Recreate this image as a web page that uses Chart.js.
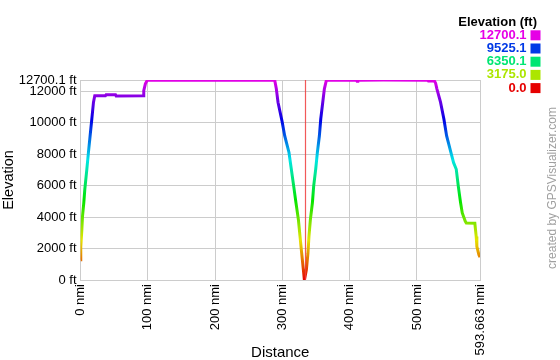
<!DOCTYPE html>
<html><head><meta charset="utf-8">
<script src="https://cdn.jsdelivr.net/npm/chart.js@4"></script>
<style>html,body{margin:0;padding:0;background:#fff;}#wrap{position:relative;width:560px;height:360px;}</style>
</head><body><div id="wrap"><canvas id="c" width="560" height="360"></canvas></div>
<script>
const distanceNmi = [0,0.4,2,3,4.9,6.4,9.4,11.8,14.3,16.8,19.3,21.2,37,38,52,53,93,94,96.4,99.3,
  288.6,291,293.5,299.5,303.4,309.8,313.3,316.8,320.2,323.8,326.2,328.7,331.2,332.7,
  335.6,338,339.5,341.6,344.6,346.5,349.5,352,355,357,360,362.4,365.4,410,411,412,450,
  516,517,526,527.7,529.6,535,540,544,550.4,554.4,558.4,561.4,564.8,567.3,571.8,573.3,586,588,589,592,593.663];
const elevationFt = [1280,2100,3200,4050,4900,5750,7030,8100,9160,10220,11290,11700,11700,11760,11760,11680,11700,12030,12460,12690,
  12690,12140,11290,10080,9160,8100,7030,5960,4900,3830,2770,1700,640,0,
  640,1700,2770,3830,4900,5960,7030,8100,9160,10220,11290,12140,12690,12690,12620,12690,12700.1,
  12690,12640,12640,12500,12140,11290,10220,9160,8100,7450,7030,5960,4900,4260,3730,3620,3600,2770,2130,1600,1450];
const xTickValues = [0,100,200,300,400,500,593.663];
const yTickValues = [0,2000,4000,6000,8000,10000,12000,12700.1];
const legendValues = [12700.1, 9525.1, 6350.1, 3175.0, 0.0];
const legendLabels = ['12700.1','9525.1','6350.1','3175.0','0.0'];
const markerNmi = [333.6];
const ELEV_MAX = 12700.1;
const FONT = '"Liberation Sans", Arial, sans-serif';

function elevColor(e){ const h = Math.max(0,Math.min(1,e/ELEV_MAX))*300; return 'hsl(' + h + ',100%,45%)'; }

let gradCache = null;
function lineGradient(chart){
  const ca = chart.chartArea; if(!ca) return '#000';
  const y = chart.scales.y;
  const key = ca.top + '_' + ca.bottom;
  if (gradCache && gradCache.key === key) return gradCache.g;
  const g = chart.ctx.createLinearGradient(0, y.getPixelForValue(0), 0, y.getPixelForValue(ELEV_MAX));
  for (let i=0;i<=30;i++){ g.addColorStop(i/30, elevColor(i/30*ELEV_MAX)); }
  gradCache = {key, g};
  return g;
}

const extras = {
  id:'extras',
  afterDatasetsDraw(chart){
    const ctx = chart.ctx, ca = chart.chartArea, xs = chart.scales.x;
    ctx.save();
    ctx.globalAlpha = 0.85;
    ctx.strokeStyle = 'rgb(240,60,60)'; ctx.lineWidth = 1.2; ctx.setLineDash([]);
    markerNmi.forEach(m => { const px = Math.round(xs.getPixelForValue(m)) + 0.5; ctx.beginPath(); ctx.moveTo(px, ca.top); ctx.lineTo(px, ca.bottom); ctx.stroke(); });
    ctx.restore();
  },
  afterDraw(chart){
    const ctx = chart.ctx;
    ctx.save();
    ctx.textAlign = 'right'; ctx.textBaseline = 'middle';
    ctx.font = 'bold 13px ' + FONT; ctx.fillStyle = '#000';
    ctx.fillText('Elevation (ft)', 537, 22.5);
    legendValues.forEach((v,i) => {
      const yc = 35.3 + i*13.2;
      const col = elevColor(v);
      ctx.fillStyle = col;
      ctx.fillText(legendLabels[i], 526.5, yc);
      ctx.fillRect(530.5, yc-5, 10, 10);
    });
    ctx.translate(553, 188); ctx.rotate(-Math.PI/2);
    ctx.textAlign = 'center'; ctx.font = '12px ' + FONT; ctx.fillStyle = '#a0a0a0';
    ctx.fillText('created by GPSVisualizer.com', 0, 0);
    ctx.restore();
  }
};

new Chart(document.getElementById('c'), {
  type:'line',
  data:{ datasets:[{
    data: distanceNmi.map((d,i)=>({x:d, y:elevationFt[i]})),
    borderColor: ctx => lineGradient(ctx.chart),
    borderWidth: 3, pointRadius: 0, tension: 0, fill:false
  }]},
  options:{
    responsive:false, animation:false, devicePixelRatio:1,
    layout:{ padding:{ left:0, top:80, right:80, bottom:0 } },
    plugins:{ legend:{display:false}, tooltip:{enabled:false} },
    scales:{
      x:{ type:'linear', min:0, max:593.663,
        afterBuildTicks: s => { s.ticks = xTickValues.map(v=>({value:v})); },
        afterFit: s => { s.height = 80; },
        ticks:{ autoSkip:false, minRotation:90, maxRotation:90, padding:4, color:'#000', font:{family:FONT, size:13},
          callback: v => v + ' nmi' },
        grid:{ color:'#cccccc', drawTicks:false }, border:{ color:'#cccccc' },
        title:{ display:true, text:'Distance', color:'#000', font:{family:FONT, size:15}, padding:{top:0,bottom:-2} }
      },
      y:{ type:'linear', min:0, max:ELEV_MAX,
        afterBuildTicks: s => { s.ticks = yTickValues.map(v=>({value:v})); },
        afterFit: s => { s.width = 80.5; },
        ticks:{ autoSkip:false, padding:4, color:'#000', font:{family:FONT, size:13},
          callback: v => v + ' ft' },
        grid:{ color:'#cccccc', drawTicks:false }, border:{ color:'#cccccc' },
        title:{ display:true, text:'Elevation', color:'#000', font:{family:FONT, size:14.5}, padding:{top:0,bottom:0} }
      }
    }
  },
  plugins:[extras]
});
</script></body></html>
